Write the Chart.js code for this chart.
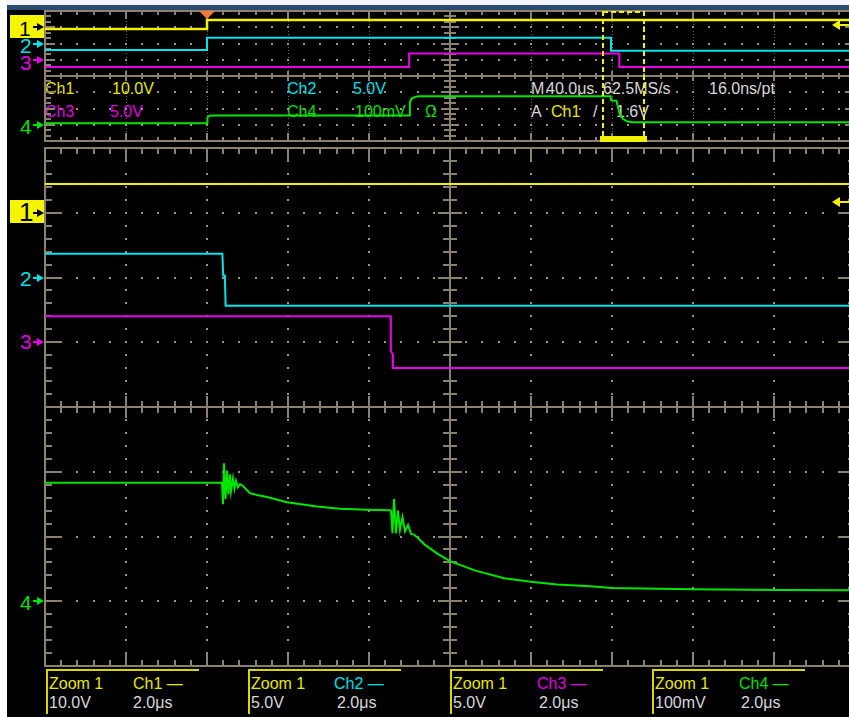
<!DOCTYPE html>
<html><head><meta charset="utf-8">
<script src="https://cdn.jsdelivr.net/npm/chart.js@4.4.1/dist/chart.umd.min.js"></script>
<style>
html,body{margin:0;padding:0;background:#000;width:849px;height:717px;overflow:hidden;}
#wrap{position:relative;width:849px;height:717px;overflow:hidden;background:#000;font-family:"Liberation Sans",Arial,sans-serif;}
.t{position:absolute;white-space:pre;font-size:16px;line-height:16px;z-index:1;}
.mk{position:absolute;white-space:pre;font-size:21px;line-height:20px;z-index:1;}
canvas{position:absolute;left:0;z-index:2;}
.y{color:#e8e800}.c{color:#00e0e8}.m{color:#e000e0}.g{color:#00e000}.w{color:#d8d8d8}
.box{position:absolute;top:669px;height:43px;width:151px;border-left:2px solid #d8d800;border-top:2px solid #d8d800;z-index:1;}
.ybox{position:absolute;left:10px;width:34px;height:23px;background:#f5f500;z-index:1;}
</style></head>
<body><div id="wrap">
<div style="position:absolute;left:0;top:0;width:849px;height:5px;background:#f2f4f7"></div>
<div style="position:absolute;left:7px;top:5px;width:842px;height:5px;background:#2b4a6f"></div>
<div style="position:absolute;left:0;top:0;width:7px;height:717px;background:#ffffff"></div>

<!-- channel markers -->
<div class="ybox" style="top:15px"></div>
<div class="mk" style="left:19px;top:19px;color:#000">1</div>
<div class="mk c" style="left:20px;top:36px">2</div>
<div class="mk m" style="left:20px;top:53px">3</div>
<div class="mk g" style="left:20px;top:117px">4</div>

<div class="ybox" style="top:200px"></div>
<div class="mk" style="left:19px;top:201px;color:#000;font-size:26px;line-height:22px">1</div>
<div class="mk c" style="left:20px;top:269px">2</div>
<div class="mk m" style="left:20px;top:332px">3</div>
<div class="mk g" style="left:20px;top:593px">4</div>

<!-- overview readouts -->
<div class="t y" style="left:45px;top:81px">Ch1</div>
<div class="t y" style="left:112px;top:81px">10.0V</div>
<div class="t c" style="left:287px;top:81px">Ch2</div>
<div class="t c" style="left:353px;top:81px">5.0V</div>
<div class="t w" style="left:531px;top:81px">M</div>
<div class="t w" style="left:546px;top:81px">40.0μs</div>
<div class="t w" style="left:603px;top:81px">62.5MS/s</div>
<div class="t w" style="left:709px;top:81px">16.0ns/pt</div>
<div class="t m" style="left:45px;top:104px">Ch3</div>
<div class="t m" style="left:110px;top:104px">5.0V</div>
<div class="t g" style="left:287px;top:104px">Ch4</div>
<div class="t g" style="left:355px;top:104px">100mV</div>
<div class="t g" style="left:425px;top:104px">Ω</div>
<div class="t w" style="left:531px;top:104px">A</div>
<div class="t y" style="left:551px;top:104px">Ch1</div>
<div class="t w" style="left:593px;top:104px">/</div>
<div class="t w" style="left:616px;top:104px">1.6V</div>

<!-- zoom readouts -->
<div class="box" style="left:46px"></div>
<div class="t y" style="left:49px;top:676px">Zoom 1</div>
<div class="t y" style="left:133px;top:676px">Ch1 —</div>
<div class="t w" style="left:49px;top:695px">10.0V</div>
<div class="t w" style="left:133px;top:695px">2.0μs</div>
<div class="box" style="left:248px"></div>
<div class="t y" style="left:251px;top:676px">Zoom 1</div>
<div class="t c" style="left:334px;top:676px">Ch2 —</div>
<div class="t w" style="left:251px;top:695px">5.0V</div>
<div class="t w" style="left:337px;top:695px">2.0μs</div>
<div class="box" style="left:450px"></div>
<div class="t y" style="left:453px;top:676px">Zoom 1</div>
<div class="t m" style="left:537px;top:676px">Ch3 —</div>
<div class="t w" style="left:453px;top:695px">5.0V</div>
<div class="t w" style="left:539px;top:695px">2.0μs</div>
<div class="box" style="left:652px"></div>
<div class="t y" style="left:655px;top:676px">Zoom 1</div>
<div class="t g" style="left:739px;top:676px">Ch4 —</div>
<div class="t w" style="left:655px;top:695px">100mV</div>
<div class="t w" style="left:741px;top:695px">2.0μs</div>

<canvas id="ov" width="860" height="143" style="top:0"></canvas>
<canvas id="mn" width="860" height="574" style="top:143px"></canvas>
</div>
<script>
// ---------- channel settings ----------
const chNames = ['Ch1', 'Ch2', 'Ch3', 'Ch4'];
const chColors = ['#f2f200', '#00e4ec', '#e800e8', '#00e600'];
const voltsPerDiv = [10, 5, 5, 100];      // V/div (Ch4 in mV/div)
const markerDiv = [7, 6, 5, 1];           // ground marker position (divisions from bottom)
const trigLevel = 1.6;                    // V, Ch1
const trigTime = 80;                      // µs in record
const zoomWindow = [275.6, 295.8];        // µs in record

// ---------- record (overview), 40.0 µs/div, time in µs ----------
const recT1 = [0, 80, 80, 400];
const recV1 = [-1.0, -1.0, 4.4, 4.4];
const recT2 = [0, 80, 80, 279.5, 279.5, 400];
const recV2 = [-2.0, -2.0, 1.8, 1.8, -2.2, -2.2];
const recT3 = [0, 179.8, 179.8, 283.6, 283.6, 400];
const recV3 = [-2.2, -2.2, 1.95, 1.95, -2.2, -2.2];
const recT4 = [0, 80, 80.2, 81.2, 83, 179.8, 180.2, 181, 182.5, 184.5, 279.3, 279.6, 282.2, 284, 285.5, 287.4, 290, 400];
const recV4 = [10, 10, 45, 55, 57, 57, 140, 160, 170, 175, 175, 150, 148, 57, 35, 22, 16, 16];

// ---------- zoom 1, 2.0 µs/div, time in µs ----------
const zoomT1 = [0, 20];
const zoomV1 = [4.45, 4.45];
const zoomT2 = [0, 4.38, 4.40, 4.44, 4.46, 20];
const zoomV2 = [1.83, 1.83, 0.15, 0.15, -2.18, -2.18];
const zoomT3 = [0, 8.535, 8.54, 8.585, 8.59, 20];
const zoomV3 = [2.0, 2.0, -0.7, -0.9, -1.98, -1.98];
const zoomT4 = [0, 4.37, 4.395, 4.42, 4.457, 4.494, 4.53, 4.568, 4.593, 4.642, 4.679, 4.716, 4.765, 4.815, 4.889,
  5.06, 5.235, 5.48, 5.975, 6.716, 7.284, 7.95, 8.52, 8.543, 8.58, 8.617, 8.667, 8.716, 8.765, 8.827, 8.889, 8.963,
  9.037, 9.111, 9.235, 9.383, 9.679, 10.0, 10.593, 11.333, 12.0, 12.642, 13.457, 14.0, 15.975, 18.148, 20];
const zoomV4 = [183, 183, 150, 213, 158, 202, 165, 196, 170, 190, 174, 186, 176, 181, 178,
  167, 164, 161, 153, 146.5, 143, 141.5, 140.5, 140, 105, 158, 105, 140, 110, 130, 108, 118,
  104, 103, 96, 87, 74, 62, 48, 35.5, 30, 26, 23, 20.5, 18.5, 17.5, 17];

const GRID = '#8a826e', DOT = '#9d957f';

function pts(T, V) { return T.map((t, i) => ({ x: t, y: V[i] })); }

function drawGrat(chart, g) {
  const ctx = chart.ctx, a = chart.chartArea;
  const xs = chart.scales.x, ds = chart.scales.d;
  const X = i => Math.round(xs.getPixelForValue(xs.min + i * (xs.max - xs.min) / 10));
  const Y = j => Math.round(ds.getPixelForValue(j));
  ctx.save();
  ctx.fillStyle = g.dotV;
  for (let i = 1; i < 10; i++) {
    if (i === 5) continue;
    const x = X(i);
    for (let k = 1; k < 8 * g.vsub; k++) ctx.fillRect(x - Math.floor(g.dsV / 2), Y(k / g.vsub) - Math.floor(g.dsV / 2), g.dsV, g.dsV);
  }
  ctx.fillStyle = DOT;
  for (let j = 1; j < 8; j++) {
    if (j === 4) continue;
    const y = Y(j);
    for (let k = 1; k < 50; k++) ctx.fillRect(X(k / 5) - 1, y - 1, g.dsH, g.dsH);
  }
  ctx.strokeStyle = GRID;
  ctx.lineWidth = g.lw;
  ctx.beginPath();
  ctx.rect(a.left, a.top, a.right - a.left, a.bottom - a.top);
  const cx = X(5), cy = Y(4);
  ctx.moveTo(a.left, cy); ctx.lineTo(a.right, cy);
  ctx.moveTo(cx, a.top); ctx.lineTo(cx, a.bottom);
  for (let k = 1; k < 50; k++) {
    const x = X(k / 5), major = k % 5 === 0;
    const tl = major ? g.bMaj : g.bMin;
    ctx.moveTo(x, a.top); ctx.lineTo(x, a.top + tl);
    ctx.moveTo(x, a.bottom); ctx.lineTo(x, a.bottom - tl);
    const cl = major ? g.cMaj : g.cMin;
    ctx.moveTo(x, cy - cl); ctx.lineTo(x, cy + cl);
  }
  for (let k = 1; k < 8 * g.tsub; k++) {
    const y = Y(k / g.tsub), major = k % g.tsub === 0;
    const tl = major ? g.lMaj : g.lMin;
    ctx.moveTo(a.left, y); ctx.lineTo(a.left + tl, y);
    ctx.moveTo(a.right, y); ctx.lineTo(a.right - tl, y);
    const cl = major ? g.vMaj : g.vMin;
    ctx.moveTo(cx - cl, y); ctx.lineTo(cx + cl, y);
  }
  ctx.stroke();
  ctx.restore();
}

function drawMarks(chart, g) {
  const ctx = chart.ctx, a = chart.chartArea, xs = chart.scales.x;
  ctx.save();
  for (let i = 0; i < 4; i++) {
    const y = Math.round(chart.scales['y' + (i + 1)].getPixelForValue(0));
    const col = i === 0 ? '#000' : chColors[i];
    ctx.strokeStyle = col; ctx.fillStyle = col; ctx.lineWidth = 2;
    ctx.beginPath(); ctx.moveTo(33, y); ctx.lineTo(39, y); ctx.stroke();
    ctx.beginPath(); ctx.moveTo(44, y); ctx.lineTo(37, y - 4); ctx.lineTo(37, y + 4); ctx.closePath(); ctx.fill();
  }
  // trigger level arrow (Ch1)
  const ly = Math.round(chart.scales.y1.getPixelForValue(trigLevel));
  ctx.fillStyle = chColors[0]; ctx.strokeStyle = chColors[0]; ctx.lineWidth = 2;
  ctx.beginPath(); ctx.moveTo(832, ly); ctx.lineTo(840, ly - 5); ctx.lineTo(840, ly + 5); ctx.closePath(); ctx.fill();
  ctx.beginPath(); ctx.moveTo(838, ly); ctx.lineTo(860, ly); ctx.stroke();
  if (g.overview) {
    const tx = Math.round(xs.getPixelForValue(trigTime));
    ctx.fillStyle = '#f47b3a';
    ctx.beginPath(); ctx.moveTo(tx - 8, a.top); ctx.lineTo(tx + 8, a.top); ctx.lineTo(tx, a.top + 8); ctx.closePath(); ctx.fill();
    const x1 = Math.round(xs.getPixelForValue(zoomWindow[0])), x2 = Math.round(xs.getPixelForValue(zoomWindow[1]));
    ctx.strokeStyle = chColors[0]; ctx.lineWidth = 2; ctx.setLineDash([5, 3]);
    ctx.beginPath();
    ctx.moveTo(x1, a.top); ctx.lineTo(x1, a.bottom - 4);
    ctx.moveTo(x2, a.top); ctx.lineTo(x2, a.bottom - 4);
    ctx.moveTo(x1, a.top + 1); ctx.lineTo(x2, a.top + 1);
    ctx.stroke();
    ctx.setLineDash([]);
    ctx.fillStyle = chColors[0];
    ctx.fillRect(x1 - 3, a.bottom - 5, x2 - x1 + 6, 6);
  }
  ctx.restore();
}

function makeChart(id, tMax, series, g, pad) {
  const scales = {
    x: { type: 'linear', axis: 'x', position: 'bottom', min: 0, max: tMax, display: false },
    d: { type: 'linear', axis: 'y', position: 'left', min: 0, max: 8, display: false }
  };
  for (let i = 0; i < 4; i++) {
    scales['y' + (i + 1)] = { type: 'linear', axis: 'y', position: 'left', display: false,
      min: -markerDiv[i] * voltsPerDiv[i], max: (8 - markerDiv[i]) * voltsPerDiv[i] };
  }
  const datasets = series.map((s, i) => ({
    label: chNames[i], data: pts(s[0], s[1]), xAxisID: 'x', yAxisID: 'y' + (i + 1),
    borderColor: chColors[i], borderWidth: (g.overview && i === 0) ? 2.5 : 2, pointRadius: 0, tension: 0, fill: false
  }));
  return new Chart(document.getElementById(id), {
    type: 'line',
    data: { datasets },
    options: {
      responsive: false, animation: false, devicePixelRatio: 1, parsing: false,
      layout: { padding: pad },
      plugins: { legend: { display: false }, tooltip: { enabled: false } },
      scales
    },
    plugins: [{
      id: 'scope' + id,
      beforeDatasetsDraw(chart) { drawGrat(chart, g); },
      afterDatasetsDraw(chart) { drawMarks(chart, g); }
    }]
  });
}

makeChart('ov', 400,
  [[recT1, recV1], [recT2, recV2], [recT3, recV3], [recT4, recV4]],
  { overview: true, lw: 2, vsub: 5, dsV: 1, dsH: 2, tsub: 3, bMin: 4, bMaj: 8, lMin: 6, lMaj: 10, cMin: 3, cMaj: 5, vMin: 6, vMaj: 9, dotV: '#6f6856' },
  { left: 45, top: 11, right: 5, bottom: 2 });

makeChart('mn', 20,
  [[zoomT1, zoomV1], [zoomT2, zoomV2], [zoomT3, zoomV3], [zoomT4, zoomV4]],
  { overview: false, lw: 2, vsub: 5, dsV: 2, dsH: 2, tsub: 5, bMin: 6, bMaj: 13, lMin: 7, lMaj: 17, cMin: 6, cMaj: 11, vMin: 7, vMaj: 12, dotV: DOT },
  { left: 45, top: 5, right: 5, bottom: 51 });
</script>
</body></html>
